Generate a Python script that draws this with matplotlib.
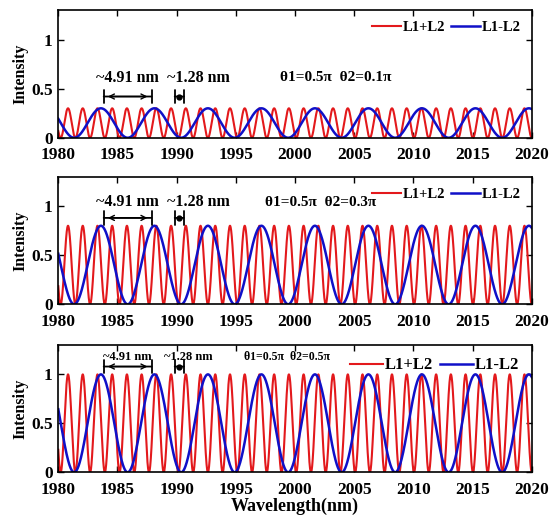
import numpy as np
import matplotlib
matplotlib.use("Agg")
import matplotlib.pyplot as plt

plt.rcParams['font.family'] = ['Liberation Serif', 'DejaVu Serif']
plt.rcParams['font.weight'] = 'bold'

# values
wl_min, wl_max = 1980, 2020
red_period = 1.244      # fast fringe (L1+L2)
red_peak = 1980.82
blue_period = 4.52      # slow fringe (L1-L2)
blue_peak = 1983.6
amplitudes = [0.3, 0.8, 1.0]
theta_labels = ["θ1=0.5π  θ2=0.1π", "θ1=0.5π  θ2=0.3π", "θ1=0.5π  θ2=0.5π"]
xticks = [1980, 1985, 1990, 1995, 2000, 2005, 2010, 2015, 2020]
yticks = [0, 0.5, 1]

# per-panel annotation layout
label_y = [0.61, 1.04, 1.18]
arrow_y = [0.42, 0.88, 1.08]
theta_x = [2003.4, 2002.2, 1999.3]
small_x = [1991.8, 1991.8, 1991.0]
text_size = [11.5, 11.5, 9]
theta_size = [11, 11, 8.5]
legend_size = [10.5, 10.5, 12]

red_c = '#e3191c'
blue_c = '#1010c8'

wl = np.linspace(wl_min, wl_max, 4000)

fig = plt.figure(figsize=(5.57, 5.16), dpi=100)
rects = [[0.1047, 0.733, 0.85, 0.2475],
         [0.1047, 0.4103, 0.85, 0.2473],
         [0.1047, 0.0847, 0.85, 0.2467]]

for i, amp in enumerate(amplitudes):
    ax = fig.add_axes(rects[i])
    red = amp * (1 + np.cos(2 * np.pi * (wl - red_peak) / red_period)) / 2
    blue = amp * (1 + np.cos(2 * np.pi * (wl - blue_peak) / blue_period)) / 2
    ax.plot(wl, red, color=red_c, lw=1.5, label='L1+L2')
    ax.plot(wl, blue, color=blue_c, lw=1.8, label='L1-L2')
    ax.set_xlim(wl_min, wl_max)
    ax.set_ylim(0, 1.3)
    ax.set_xticks(xticks)
    ax.set_yticks(yticks)
    ax.set_yticklabels(['0', '0.5', '1'])
    ax.tick_params(direction='in', top=True, right=True, labelsize=12.5, length=4, width=1)
    ax.tick_params(axis='x', pad=7)
    ax.tick_params(axis='y', pad=4)
    for s in ax.spines.values():
        s.set_linewidth(1.2)
    ax.set_ylabel('Intensity', fontsize=11.5, fontweight='bold', labelpad=2)

    ax.legend(loc='upper right', ncol=2, frameon=False, fontsize=legend_size[i],
              handlelength=2.0, handletextpad=0.1, columnspacing=0.4,
              borderaxespad=0.35)

    # period markers
    p1 = blue_peak
    p2 = blue_peak + blue_period
    ax.annotate('', xy=(p1, arrow_y[i]), xytext=(p2, arrow_y[i]),
                arrowprops=dict(arrowstyle='|-|', lw=1.3, mutation_scale=5, color='k'))
    ax.annotate('', xy=(p1 + 0.35, arrow_y[i]), xytext=(p2 - 0.35, arrow_y[i]),
                arrowprops=dict(arrowstyle='<->', lw=1.0, mutation_scale=9, color='k'))
    ax.text((p1 + p2) / 2, label_y[i], '~4.91 nm', ha='center', va='center',
            fontsize=text_size[i], fontweight='bold')
    q1, q2 = 1989.6, 1990.85
    ax.annotate('', xy=(q1, arrow_y[i]), xytext=(q2, arrow_y[i]),
                arrowprops=dict(arrowstyle='|-|', lw=1.3, mutation_scale=5, color='k'))
    ax.plot([(q1 + q2) / 2], [arrow_y[i]], 'o', color='k', ms=3.5)
    ax.text(small_x[i], label_y[i], '~1.28 nm', ha='center', va='center',
            fontsize=text_size[i], fontweight='bold')
    ax.text(theta_x[i], label_y[i], theta_labels[i], ha='center', va='center',
            fontsize=theta_size[i], fontweight='bold')

    if i == 2:
        ax.set_xlabel('Wavelength(nm)', fontsize=13, fontweight='bold', labelpad=0)

fig.savefig('out.png', dpi=100)
